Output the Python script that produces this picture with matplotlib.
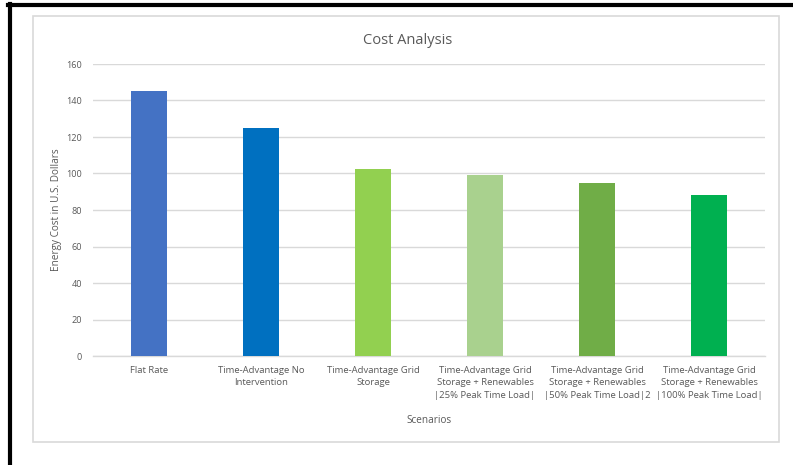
import matplotlib
matplotlib.use("Agg")
import matplotlib.pyplot as plt
from matplotlib.patches import Rectangle
from matplotlib.lines import Line2D

categories = [
    "Flat Rate",
    "Time-Advantage No\nIntervention",
    "Time-Advantage Grid\nStorage",
    "Time-Advantage Grid\nStorage + Renewables\n|25% Peak Time Load|",
    "Time-Advantage Grid\nStorage + Renewables\n|50% Peak Time Load|2",
    "Time-Advantage Grid\nStorage + Renewables\n|100% Peak Time Load|",
]
values = [145, 125, 102.5, 99, 95, 88]
colors = ["#4472C4", "#0070C0", "#92D050", "#A9D18E", "#70AD47", "#00B050"]
yticks = [0, 20, 40, 60, 80, 100, 120, 140, 160]

plt.rcParams['font.family'] = ['Open Sans', 'DejaVu Sans']

W, H = 793, 465
fig = plt.figure(figsize=(W / 100, H / 100), dpi=100)

# outer chart frame (light gray)
fig.patches.append(Rectangle((33 / W, 1 - 442 / H), (779 - 33) / W, (442 - 16) / H,
                             transform=fig.transFigure, fill=False,
                             edgecolor="#D9D9D9", linewidth=1.2))
# black border lines (left & top)
fig.lines.append(Line2D([9.5 / W, 9.5 / W], [0, 1 - 4 / H], transform=fig.transFigure,
                        color="black", linewidth=3))
fig.lines.append(Line2D([8 / W, 1], [1 - 5.5 / H, 1 - 5.5 / H], transform=fig.transFigure,
                        color="black", linewidth=3))

left, right = 93 / W, 765 / W
bottom, top = 1 - 356 / H, 1 - 64 / H
ax = fig.add_axes([left, bottom, right - left, top - bottom])

x = list(range(len(categories)))
ax.bar(x, values, width=0.32, color=colors, zorder=3)
ax.set_xlim(-0.5, len(categories) - 0.5)
ax.set_ylim(0, 160)
ax.set_yticks(yticks)
ax.set_yticklabels([str(v) for v in yticks], fontsize=6.6, color="#595959")
ax.set_xticks(x)
ax.set_xticklabels(categories, fontsize=6.8, color="#595959", linespacing=1.5)
ax.tick_params(axis="both", length=0, pad=8)
ax.tick_params(axis="x", pad=7)
ax.grid(axis="y", color="#D9D9D9", linewidth=1, zorder=0)
for s in ["top", "right", "left"]:
    ax.spines[s].set_visible(False)
ax.spines["bottom"].set_color("#D9D9D9")
ax.spines["bottom"].set_linewidth(1)

fig.text(408 / W, 1 - 40 / H, "Cost Analysis", fontsize=10.5, color="#595959",
         ha="center", va="center")
fig.text(57 / W, 1 - 210 / H, "Energy Cost in U.S. Dollars", fontsize=7.2, color="#595959",
         ha="center", va="center", rotation=90)
fig.text(429 / W, 1 - 420 / H, "Scenarios", fontsize=7.2, color="#595959",
         ha="center", va="center")

fig.savefig("out.png", dpi=100)
